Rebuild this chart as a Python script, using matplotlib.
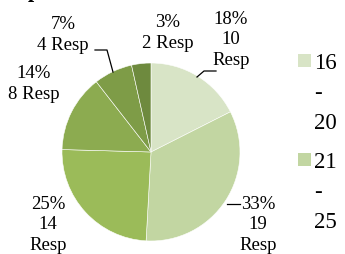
import matplotlib
matplotlib.use('Agg')
import matplotlib.pyplot as plt
from matplotlib.patches import Rectangle

plt.rcParams['font.family'] = ['Liberation Serif', 'DejaVu Serif']

# Data
counts = [10, 19, 14, 8, 4, 2]
pct_labels = ['18%', '33%', '25%', '14%', '7%', '3%']
label_text = ['18%\n10\nResp', '33%\n19\nResp', '25%\n14\nResp',
              '14%\n8 Resp', '7%\n4 Resp', '3%\n2 Resp']
colors = ['#D8E4C6', '#C2D6A2', '#9BBB59', '#8CAB50', '#7E9C47', '#6E8A3E']
legend_labels = ['16\n-\n20', '21\n-\n25']

fig = plt.figure(figsize=(3.45, 2.55), dpi=100)
ax = fig.add_axes([0, 0, 1, 1])

wedges, _ = ax.pie(counts, colors=colors, startangle=90, counterclock=False,
                   center=(151, 102), radius=89,
                   wedgeprops=dict(edgecolor='white', linewidth=0.4))
ax.set_xlim(0, 345)
ax.set_ylim(0, 255)
ax.set_aspect('equal')
ax.axis('off')

# label positions (text anchor) and optional leader lines
lab_pos = [(231, 215), (258, 30), (48, 30), (34, 171), (63, 220), (168, 222)]
leaders = {
    0: [(197, 177), (204, 183), (216, 183)],
    1: [(227, 50), (240, 50)],
    4: [(113, 182), (107, 204), (95, 204)],
}
for i, txt in enumerate(label_text):
    x, y = lab_pos[i]
    ax.text(x, y, txt, ha='center', va='center', fontsize=13.5, linespacing=1.3)
for pts in leaders.values():
    xs, ys = zip(*pts)
    ax.plot(xs, ys, color='black', lw=0.9)

# legend (only the first two entries fit)
tops = [194, 95]
for i, lab in enumerate(legend_labels):
    ax.add_patch(Rectangle((298, tops[i] - 7), 13, 13, color=colors[i], lw=0))
    ax.text(314, tops[i] + 8, lab, ha='left', va='top', fontsize=16.5,
            linespacing=1.55)

# cropped title remnant
fig.text(0.08, 1.012, 'p', fontsize=16, fontweight='bold', va='baseline')

fig.savefig('out.png', dpi=100)
